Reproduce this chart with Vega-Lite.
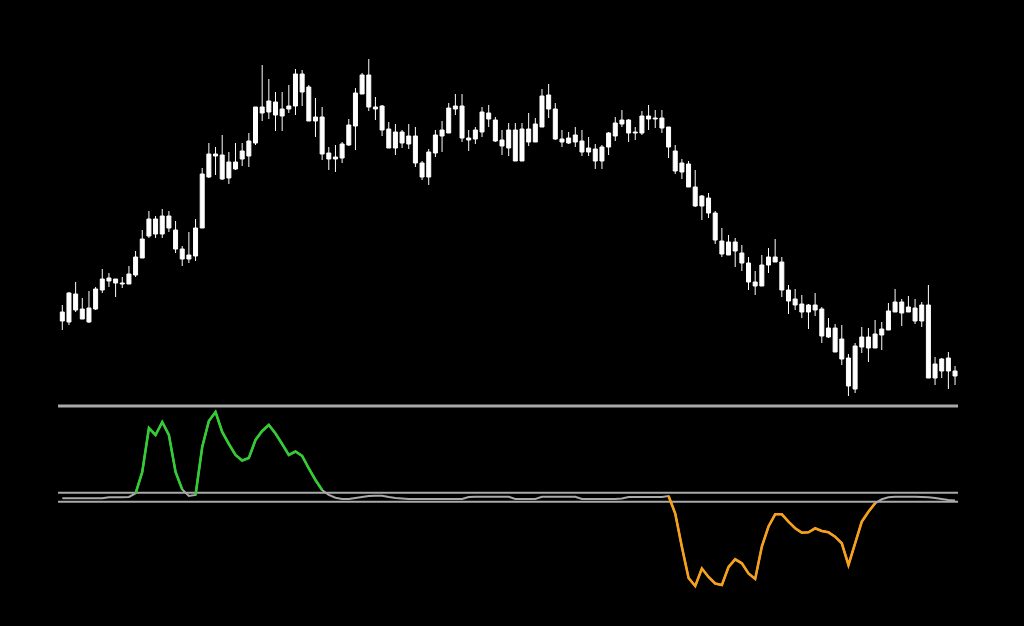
{
"$schema": "https://vega.github.io/schema/vega-lite/v6.json",
"width": 1024, "height": 626,
"autosize": {"type": "fit", "contains": "padding"},
"padding": 0,
"background": "#000000",
"config": {"view": {"stroke": null}},
"data": {"values": [
{"bar":0,"open":1.2079,"high":1.2095,"low":1.2070,"close":1.2088,"osc":-1.15},
{"bar":1,"open":1.2078,"high":1.2108,"low":1.2075,"close":1.2107,"osc":-1.15},
{"bar":2,"open":1.2090,"high":1.2118,"low":1.2088,"close":1.2106,"osc":-1.15},
{"bar":3,"open":1.2091,"high":1.2102,"low":1.2081,"close":1.2081,"osc":-1.15},
{"bar":4,"open":1.2092,"high":1.2109,"low":1.2077,"close":1.2078,"osc":-1.15},
{"bar":5,"open":1.2091,"high":1.2113,"low":1.2090,"close":1.2111,"osc":-1.15},
{"bar":6,"open":1.2110,"high":1.2131,"low":1.2107,"close":1.2121,"osc":-1.15},
{"bar":7,"open":1.2119,"high":1.2127,"low":1.2113,"close":1.2122,"osc":-0.05},
{"bar":8,"open":1.2121,"high":1.2121,"low":1.2103,"close":1.2117,"osc":-0.05},
{"bar":9,"open":1.2117,"high":1.2123,"low":1.2112,"close":1.2116,"osc":-0.05},
{"bar":10,"open":1.2116,"high":1.2134,"low":1.2116,"close":1.2126,"osc":0.27},
{"bar":11,"open":1.2125,"high":1.2149,"low":1.2123,"close":1.2143,"osc":4.33,"up":4.33},
{"bar":12,"open":1.2142,"high":1.2170,"low":1.2142,"close":1.2161,"osc":27.67,"up":27.67},
{"bar":13,"open":1.2164,"high":1.2189,"low":1.2162,"close":1.2181,"osc":75.89,"up":75.89},
{"bar":14,"open":1.2166,"high":1.2184,"low":1.2162,"close":1.2181,"osc":68.22,"up":68.22},
{"bar":15,"open":1.2166,"high":1.2191,"low":1.2162,"close":1.2184,"osc":82.47,"up":82.47},
{"bar":16,"open":1.2172,"high":1.2189,"low":1.2168,"close":1.2184,"osc":68.22,"up":68.22},
{"bar":17,"open":1.2170,"high":1.2179,"low":1.2147,"close":1.2151,"osc":27.67,"up":27.67},
{"bar":18,"open":1.2151,"high":1.2154,"low":1.2134,"close":1.2141,"osc":8.49,"up":8.49},
{"bar":19,"open":1.2145,"high":1.2168,"low":1.2137,"close":1.2141,"osc":1.37},
{"bar":20,"open":1.2144,"high":1.2181,"low":1.2139,"close":1.2172,"osc":2.47,"up":2.47},
{"bar":21,"open":1.2172,"high":1.2232,"low":1.2172,"close":1.2226,"osc":55.07,"up":55.07},
{"bar":22,"open":1.2223,"high":1.2257,"low":1.2222,"close":1.2246,"osc":83.56,"up":83.56},
{"bar":23,"open":1.2244,"high":1.2253,"low":1.2225,"close":1.2246,"osc":93.43,"up":93.43},
{"bar":24,"open":1.2245,"high":1.2265,"low":1.2220,"close":1.2221,"osc":71.51,"up":71.51},
{"bar":25,"open":1.2238,"high":1.2248,"low":1.2216,"close":1.2222,"osc":58.36,"up":58.36},
{"bar":26,"open":1.2231,"high":1.2257,"low":1.2230,"close":1.2238,"osc":46.30,"up":46.30},
{"bar":27,"open":1.2241,"high":1.2257,"low":1.2234,"close":1.2249,"osc":40.27,"up":40.27},
{"bar":28,"open":1.2244,"high":1.2267,"low":1.2233,"close":1.2259,"osc":43.01,"up":43.01},
{"bar":29,"open":1.2257,"high":1.2293,"low":1.2255,"close":1.2293,"osc":62.74,"up":62.74},
{"bar":30,"open":1.2287,"high":1.2335,"low":1.2279,"close":1.2293,"osc":72.60,"up":72.60},
{"bar":31,"open":1.2288,"high":1.2321,"low":1.2281,"close":1.2299,"osc":79.18,"up":79.18},
{"bar":32,"open":1.2298,"high":1.2308,"low":1.2269,"close":1.2285,"osc":69.86,"up":69.86},
{"bar":33,"open":1.2291,"high":1.2308,"low":1.2269,"close":1.2284,"osc":58.36,"up":58.36},
{"bar":34,"open":1.2291,"high":1.2315,"low":1.2287,"close":1.2294,"osc":46.30,"up":46.30},
{"bar":35,"open":1.2294,"high":1.2331,"low":1.2285,"close":1.2326,"osc":50.14,"up":50.14},
{"bar":36,"open":1.2308,"high":1.2330,"low":1.2294,"close":1.2326,"osc":45.21,"up":45.21},
{"bar":37,"open":1.2313,"high":1.2315,"low":1.2279,"close":1.2279,"osc":31.51,"up":31.51},
{"bar":38,"open":1.2283,"high":1.2302,"low":1.2263,"close":1.2279,"osc":18.90,"up":18.90},
{"bar":39,"open":1.2283,"high":1.2293,"low":1.2240,"close":1.2246,"osc":7.95,"up":7.95},
{"bar":40,"open":1.2247,"high":1.2253,"low":1.2230,"close":1.2241,"osc":2.47},
{"bar":41,"open":1.2243,"high":1.2255,"low":1.2228,"close":1.2241,"osc":-0.49},
{"bar":42,"open":1.2242,"high":1.2258,"low":1.2237,"close":1.2256,"osc":-1.92},
{"bar":43,"open":1.2255,"high":1.2281,"low":1.2254,"close":1.2275,"osc":-1.92},
{"bar":44,"open":1.2274,"high":1.2312,"low":1.2250,"close":1.2307,"osc":-0.82},
{"bar":45,"open":1.2306,"high":1.2327,"low":1.2306,"close":1.2325,"osc":0.27},
{"bar":46,"open":1.2325,"high":1.2341,"low":1.2289,"close":1.2293,"osc":1.37},
{"bar":47,"open":1.2293,"high":1.2303,"low":1.2280,"close":1.2291,"osc":1.70},
{"bar":48,"open":1.2294,"high":1.2295,"low":1.2264,"close":1.2270,"osc":1.70},
{"bar":49,"open":1.2271,"high":1.2278,"low":1.2252,"close":1.2252,"osc":0.27},
{"bar":50,"open":1.2268,"high":1.2276,"low":1.2245,"close":1.2252,"osc":-0.82},
{"bar":51,"open":1.2257,"high":1.2270,"low":1.2252,"close":1.2268,"osc":-1.37},
{"bar":52,"open":1.2264,"high":1.2276,"low":1.2251,"close":1.2256,"osc":-1.92},
{"bar":53,"open":1.2264,"high":1.2273,"low":1.2233,"close":1.2237,"osc":-1.92},
{"bar":54,"open":1.2237,"high":1.2239,"low":1.2220,"close":1.2223,"osc":-1.92},
{"bar":55,"open":1.2223,"high":1.2251,"low":1.2215,"close":1.2248,"osc":-1.92},
{"bar":56,"open":1.2247,"high":1.2270,"low":1.2243,"close":1.2265,"osc":-1.92},
{"bar":57,"open":1.2264,"high":1.2279,"low":1.2248,"close":1.2270,"osc":-1.92},
{"bar":58,"open":1.2267,"high":1.2297,"low":1.2267,"close":1.2292,"osc":-1.92},
{"bar":59,"open":1.2291,"high":1.2306,"low":1.2285,"close":1.2294,"osc":-1.92},
{"bar":60,"open":1.2294,"high":1.2306,"low":1.2258,"close":1.2262,"osc":-1.92},
{"bar":61,"open":1.2262,"high":1.2270,"low":1.2249,"close":1.2260,"osc":0.27},
{"bar":62,"open":1.2261,"high":1.2273,"low":1.2256,"close":1.2270,"osc":0.60},
{"bar":63,"open":1.2268,"high":1.2293,"low":1.2263,"close":1.2288,"osc":0.60},
{"bar":64,"open":1.2281,"high":1.2295,"low":1.2273,"close":1.2287,"osc":0.60},
{"bar":65,"open":1.2280,"high":1.2283,"low":1.2258,"close":1.2259,"osc":0.60},
{"bar":66,"open":1.2260,"high":1.2270,"low":1.2245,"close":1.2254,"osc":0.60},
{"bar":67,"open":1.2252,"high":1.2277,"low":1.2244,"close":1.2270,"osc":0.60},
{"bar":68,"open":1.2270,"high":1.2277,"low":1.2239,"close":1.2239,"osc":-1.92},
{"bar":69,"open":1.2239,"high":1.2277,"low":1.2239,"close":1.2271,"osc":-1.92},
{"bar":70,"open":1.2258,"high":1.2287,"low":1.2254,"close":1.2271,"osc":-1.92},
{"bar":71,"open":1.2258,"high":1.2282,"low":1.2258,"close":1.2276,"osc":-1.92},
{"bar":72,"open":1.2273,"high":1.2311,"low":1.2273,"close":1.2304,"osc":0.60},
{"bar":73,"open":1.2291,"high":1.2316,"low":1.2282,"close":1.2305,"osc":0.60},
{"bar":74,"open":1.2291,"high":1.2297,"low":1.2260,"close":1.2261,"osc":0.60},
{"bar":75,"open":1.2261,"high":1.2270,"low":1.2253,"close":1.2258,"osc":0.60},
{"bar":76,"open":1.2257,"high":1.2268,"low":1.2256,"close":1.2262,"osc":0.60},
{"bar":77,"open":1.2258,"high":1.2273,"low":1.2253,"close":1.2265,"osc":0.60},
{"bar":78,"open":1.2259,"high":1.2270,"low":1.2244,"close":1.2248,"osc":-1.92},
{"bar":79,"open":1.2252,"high":1.2263,"low":1.2244,"close":1.2248,"osc":-1.92},
{"bar":80,"open":1.2251,"high":1.2256,"low":1.2231,"close":1.2239,"osc":-1.92},
{"bar":81,"open":1.2239,"high":1.2255,"low":1.2231,"close":1.2253,"osc":-1.92},
{"bar":82,"open":1.2253,"high":1.2268,"low":1.2245,"close":1.2267,"osc":-1.92},
{"bar":83,"open":1.2264,"high":1.2283,"low":1.2259,"close":1.2277,"osc":-1.92},
{"bar":84,"open":1.2276,"high":1.2290,"low":1.2273,"close":1.2280,"osc":-1.37},
{"bar":85,"open":1.2280,"high":1.2281,"low":1.2258,"close":1.2267,"osc":0.27},
{"bar":86,"open":1.2268,"high":1.2273,"low":1.2260,"close":1.2267,"osc":0.27},
{"bar":87,"open":1.2267,"high":1.2289,"low":1.2265,"close":1.2284,"osc":0.27},
{"bar":88,"open":1.2281,"high":1.2295,"low":1.2270,"close":1.2284,"osc":0.27},
{"bar":89,"open":1.2282,"high":1.2290,"low":1.2272,"close":1.2281,"osc":0.27},
{"bar":90,"open":1.2282,"high":1.2290,"low":1.2267,"close":1.2272,"osc":0.27},
{"bar":91,"open":1.2273,"high":1.2273,"low":1.2242,"close":1.2253,"osc":1.37,"down":1.37},
{"bar":92,"open":1.2249,"high":1.2255,"low":1.2226,"close":1.2229,"osc":-17.81,"down":-17.81},
{"bar":93,"open":1.2237,"high":1.2241,"low":1.2221,"close":1.2228,"osc":-54.52,"down":-54.52},
{"bar":94,"open":1.2236,"high":1.2239,"low":1.2213,"close":1.2213,"osc":-88.49,"down":-88.49},
{"bar":95,"open":1.2213,"high":1.2230,"low":1.2193,"close":1.2194,"osc":-97.26,"down":-97.26},
{"bar":96,"open":1.2194,"high":1.2205,"low":1.2180,"close":1.2204,"osc":-78.08,"down":-78.08},
{"bar":97,"open":1.2202,"high":1.2207,"low":1.2182,"close":1.2187,"osc":-87.40,"down":-87.40},
{"bar":98,"open":1.2187,"high":1.2189,"low":1.2156,"close":1.2160,"osc":-94.52,"down":-94.52},
{"bar":99,"open":1.2159,"high":1.2172,"low":1.2143,"close":1.2146,"osc":-96.17,"down":-96.17},
{"bar":100,"open":1.2158,"high":1.2165,"low":1.2145,"close":1.2145,"osc":-76.44,"down":-76.44},
{"bar":101,"open":1.2149,"high":1.2162,"low":1.2133,"close":1.2158,"osc":-68.00,"down":-68.00},
{"bar":102,"open":1.2147,"high":1.2155,"low":1.2129,"close":1.2137,"osc":-72.38,"down":-72.38},
{"bar":103,"open":1.2137,"high":1.2143,"low":1.2110,"close":1.2118,"osc":-83.56,"down":-83.56},
{"bar":104,"open":1.2118,"high":1.2129,"low":1.2105,"close":1.2114,"osc":-89.59,"down":-89.59},
{"bar":105,"open":1.2114,"high":1.2145,"low":1.2114,"close":1.2135,"osc":-53.97,"down":-53.97},
{"bar":106,"open":1.2135,"high":1.2152,"low":1.2127,"close":1.2143,"osc":-32.05,"down":-32.05},
{"bar":107,"open":1.2143,"high":1.2161,"low":1.2138,"close":1.2138,"osc":-18.68,"down":-18.68},
{"bar":108,"open":1.2138,"high":1.2143,"low":1.2103,"close":1.2110,"osc":-18.68,"down":-18.68},
{"bar":109,"open":1.2110,"high":1.2115,"low":1.2086,"close":1.2099,"osc":-26.79,"down":-26.79},
{"bar":110,"open":1.2101,"high":1.2111,"low":1.2090,"close":1.2095,"osc":-34.03,"down":-34.03},
{"bar":111,"open":1.2096,"high":1.2105,"low":1.2082,"close":1.2088,"osc":-38.85,"down":-38.85},
{"bar":112,"open":1.2088,"high":1.2096,"low":1.2071,"close":1.2095,"osc":-38.41,"down":-38.41},
{"bar":113,"open":1.2095,"high":1.2107,"low":1.2084,"close":1.2090,"osc":-34.03,"down":-34.03},
{"bar":114,"open":1.2091,"high":1.2093,"low":1.2057,"close":1.2064,"osc":-36.99,"down":-36.99},
{"bar":115,"open":1.2072,"high":1.2082,"low":1.2062,"close":1.2063,"osc":-38.41,"down":-38.41},
{"bar":116,"open":1.2072,"high":1.2076,"low":1.2048,"close":1.2048,"osc":-43.23,"down":-43.23},
{"bar":117,"open":1.2061,"high":1.2075,"low":1.2035,"close":1.2041,"osc":-50.47,"down":-50.47},
{"bar":118,"open":1.2042,"high":1.2046,"low":1.2004,"close":1.2014,"osc":-74.25,"down":-74.25},
{"bar":119,"open":1.2011,"high":1.2057,"low":1.2007,"close":1.2054,"osc":-50.47,"down":-50.47},
{"bar":120,"open":1.2053,"high":1.2073,"low":1.2047,"close":1.2063,"osc":-26.79,"down":-26.79},
{"bar":121,"open":1.2063,"high":1.2072,"low":1.2038,"close":1.2052,"osc":-15.84,"down":-15.84},
{"bar":122,"open":1.2052,"high":1.2080,"low":1.2052,"close":1.2066,"osc":-6.63,"down":-6.63},
{"bar":123,"open":1.2065,"high":1.2078,"low":1.2050,"close":1.2071,"osc":-2.25},
{"bar":124,"open":1.2070,"high":1.2097,"low":1.2070,"close":1.2089,"osc":-0.05},
{"bar":125,"open":1.2088,"high":1.2111,"low":1.2088,"close":1.2098,"osc":0.60},
{"bar":126,"open":1.2098,"high":1.2101,"low":1.2074,"close":1.2087,"osc":0.60},
{"bar":127,"open":1.2088,"high":1.2104,"low":1.2088,"close":1.2093,"osc":0.60},
{"bar":128,"open":1.2092,"high":1.2101,"low":1.2076,"close":1.2079,"osc":0.60},
{"bar":129,"open":1.2079,"high":1.2098,"low":1.2073,"close":1.2095,"osc":0.27},
{"bar":130,"open":1.2095,"high":1.2115,"low":1.2022,"close":1.2022,"osc":-0.05},
{"bar":131,"open":1.2022,"high":1.2043,"low":1.2015,"close":1.2036,"osc":-0.82},
{"bar":132,"open":1.2029,"high":1.2042,"low":1.2022,"close":1.2041,"osc":-1.92},
{"bar":133,"open":1.2042,"high":1.2048,"low":1.2011,"close":1.2029,"osc":-3.01},
{"bar":134,"open":1.2029,"high":1.2034,"low":1.2015,"close":1.2024,"osc":-3.56}
]},
"resolve": {"scale": {"y": "independent"}},
"layer": [
 {"layer": [
  {"mark": {"type": "rule", "color": "#ffffff", "strokeWidth": 1},
   "encoding": {
    "x": {"field": "bar", "type": "quantitative", "scale": {"domain": [-9.352, 144.35], "nice": false, "zero": false, "padding": 0}, "axis": null},
    "y": {"field": "low", "type": "quantitative", "scale": {"domain": [1.1774, 1.24], "nice": false, "zero": false}, "axis": null},
    "y2": {"field": "high"}}},
  {"mark": {"type": "bar", "color": "#ffffff", "stroke": "#ffffff", "strokeWidth": 1, "size": 4},
   "encoding": {
    "x": {"field": "bar", "type": "quantitative", "scale": {"domain": [-9.352, 144.35], "nice": false, "zero": false, "padding": 0}, "axis": null},
    "y": {"field": "open", "type": "quantitative", "scale": {"domain": [1.1774, 1.24], "nice": false, "zero": false}, "axis": null},
    "y2": {"field": "close"}}}
 ]},
 {"layer": [
  {"data": {"values": [{"level": 100}]},
   "mark": {"type": "rule", "color": "#a9a9a9", "strokeWidth": 3},
   "encoding": {
    "x": {"datum": -0.645, "type": "quantitative", "scale": {"domain": [-9.352, 144.35], "nice": false, "zero": false, "padding": 0}, "axis": null},
    "x2": {"datum": 134.45},
    "y": {"field": "level", "type": "quantitative", "scale": {"domain": [-141.1, 544.9], "nice": false, "zero": false}, "axis": null}}},
  {"data": {"values": [{"level": 5}, {"level": -5}]},
   "mark": {"type": "rule", "color": "#a9a9a9", "strokeWidth": 2},
   "encoding": {
    "x": {"datum": -0.645, "type": "quantitative", "scale": {"domain": [-9.352, 144.35], "nice": false, "zero": false, "padding": 0}, "axis": null},
    "x2": {"datum": 134.45},
    "y": {"field": "level", "type": "quantitative", "scale": {"domain": [-141.1, 544.9], "nice": false, "zero": false}, "axis": null}}},
  {"mark": {"type": "line", "color": "#a9a9a9", "strokeWidth": 2},
   "encoding": {
    "x": {"field": "bar", "type": "quantitative", "scale": {"domain": [-9.352, 144.35], "nice": false, "zero": false, "padding": 0}, "axis": null},
    "y": {"field": "osc", "type": "quantitative", "scale": {"domain": [-141.1, 544.9], "nice": false, "zero": false}, "axis": null}}},
  {"mark": {"type": "line", "color": "#32cd32", "strokeWidth": 2.6, "invalid": "break-paths-show-domains"},
   "encoding": {
    "x": {"field": "bar", "type": "quantitative", "scale": {"domain": [-9.352, 144.35], "nice": false, "zero": false, "padding": 0}, "axis": null},
    "y": {"field": "up", "type": "quantitative", "scale": {"domain": [-141.1, 544.9], "nice": false, "zero": false}, "axis": null}}},
  {"mark": {"type": "line", "color": "#f7a11a", "strokeWidth": 2.6, "invalid": "break-paths-show-domains"},
   "encoding": {
    "x": {"field": "bar", "type": "quantitative", "scale": {"domain": [-9.352, 144.35], "nice": false, "zero": false, "padding": 0}, "axis": null},
    "y": {"field": "down", "type": "quantitative", "scale": {"domain": [-141.1, 544.9], "nice": false, "zero": false}, "axis": null}}}
 ]}
]
}
